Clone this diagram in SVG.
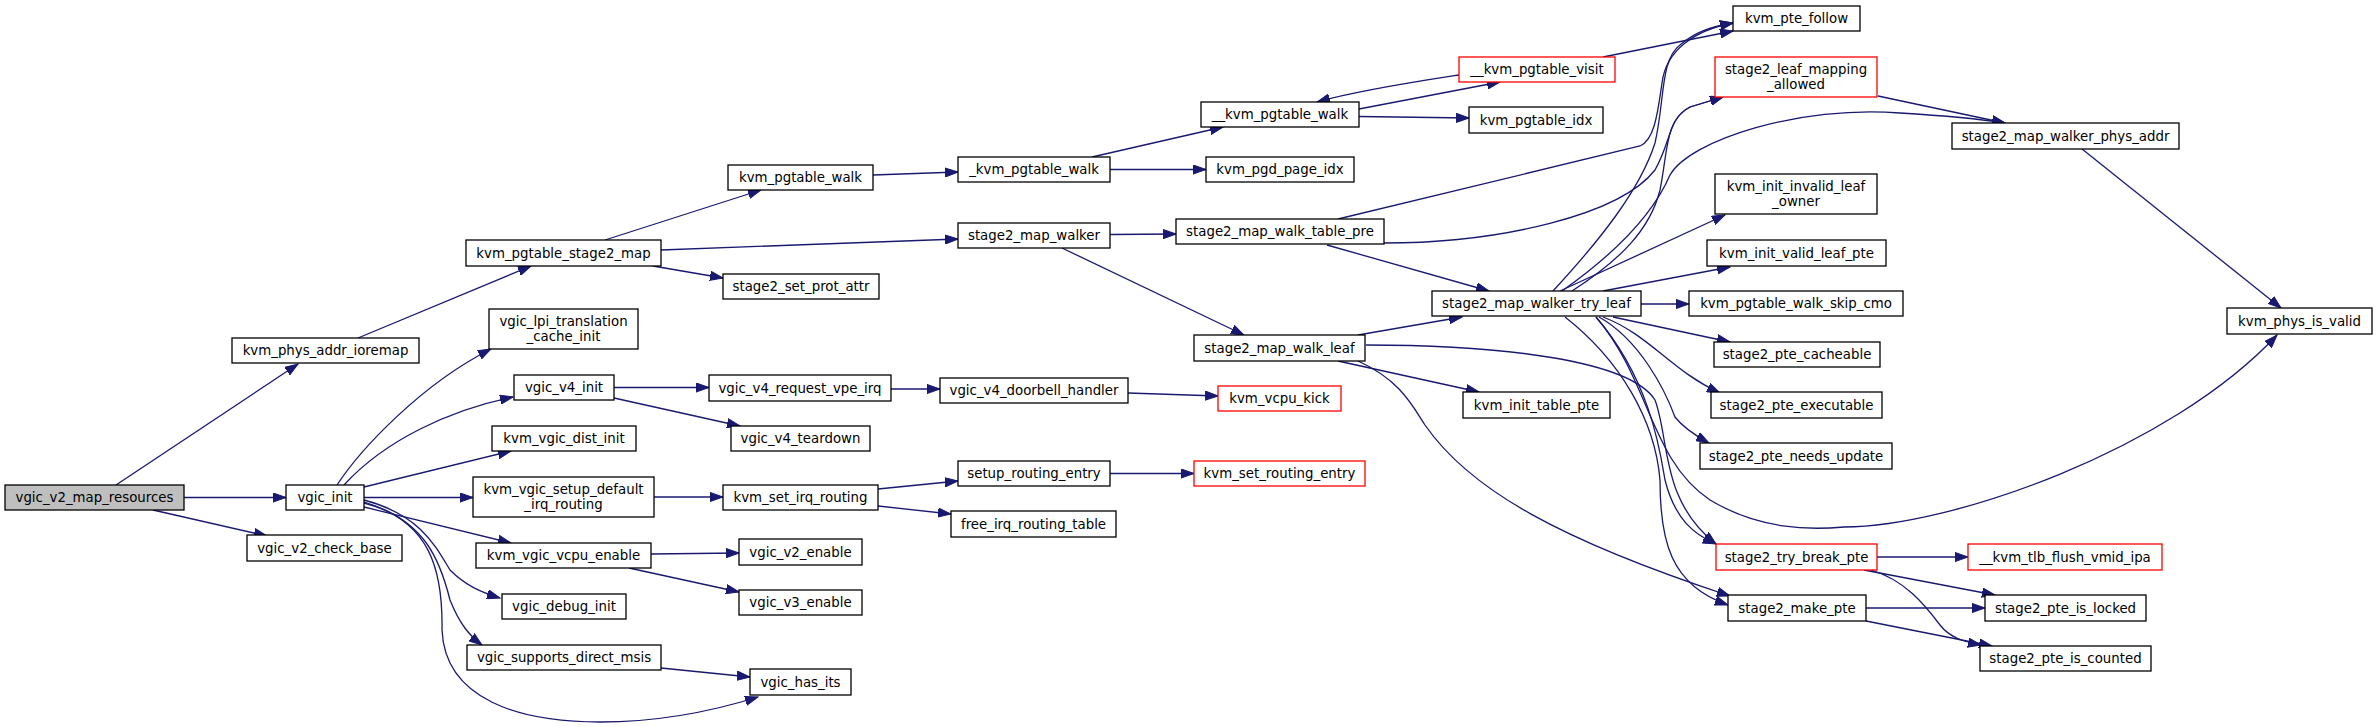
<svg xmlns="http://www.w3.org/2000/svg" width="2379" height="727" viewBox="0 0 2379 727">
<style>
.n rect{fill:#fff;stroke:#000;stroke-width:1.3}
.n.r rect{stroke:#ff0000}
.n.root rect{fill:#bfbfbf}
.n text{font-family:"DejaVu Sans",sans-serif;font-size:13.33px;fill:#000;text-anchor:middle}
.e path{fill:none;stroke:#191970;stroke-width:1.3;marker-end:url(#a)}
</style>
<defs>
<marker id="a" markerWidth="14" markerHeight="10" refX="13" refY="5" orient="auto" markerUnits="userSpaceOnUse"><path d="M0,0.4 L13,5 L0,9.6 z" fill="#191970" stroke="#191970" stroke-width="1"/></marker>
</defs>
<rect width="2379" height="727" fill="#fff"/>
<g id="edges" class="e">
<path d="M116,485 L298,364"/>
<path d="M184,497.5 L286,497.5"/>
<path d="M153,510 L267,536"/>
<path d="M358,338 L531,266"/>
<path d="M605,240 L761,190"/>
<path d="M661,250 L958,239"/>
<path d="M653,266 L723,278"/>
<path d="M873,175 L958,172"/>
<path d="M1092,157 L1223,127"/>
<path d="M1110,169.5 L1206,169.5"/>
<path d="M1359,109 L1500,82"/>
<path d="M1459,75 C1420,81 1360,90 1317,102"/>
<path d="M1359,116.5 L1469,118"/>
<path d="M1603,57 L1733,31"/>
<path d="M1110,234.5 L1176,234"/>
<path d="M1062,248 L1244,335"/>
<path d="M1338,219 L1640,146 C1655,140 1658,110 1662,83 C1666,50 1695,30 1733,23"/>
<path d="M1384,243 C1500,243 1620,215 1655,170 C1672,140 1668,118 1690,107 L1723,97"/>
<path d="M1327,245 L1489,291"/>
<path d="M1358,335 L1462,317"/>
<path d="M1338,361 L1479,392"/>
<path d="M1358,361 C1400,380 1412,405 1425,425 C1470,490 1560,540 1730,596"/>
<path d="M1366,345 C1500,345 1630,360 1655,400 C1670,440 1660,500 1716,544"/>
<path d="M1553,291 C1600,240 1640,190 1655,143 C1665,100 1660,60 1680,45 C1695,32 1710,27 1733,23"/>
<path d="M1572,291 C1620,260 1650,230 1660,190 C1668,150 1665,120 1690,107 L1723,97"/>
<path d="M1562,291 C1620,250 1655,210 1670,175 C1690,140 1800,105 1900,113 C1950,116 1980,119 2005,123"/>
<path d="M1560,291 L1725,215"/>
<path d="M1603,291 L1730,267"/>
<path d="M1641,304 L1689,304"/>
<path d="M1613,317 L1730,342"/>
<path d="M1603,317 C1650,335 1670,370 1720,393"/>
<path d="M1599,317 C1640,340 1665,390 1675,417 C1685,430 1700,438 1709,443"/>
<path d="M1596,317 C1650,380 1650,460 1710,500 C1760,530 1810,530 1844,527 C1950,527 2170,450 2277,335"/>
<path d="M1596,317 C1650,380 1660,450 1665,480 C1675,520 1695,535 1716,544"/>
<path d="M1565,317 C1620,360 1655,420 1660,480 C1660,540 1670,585 1728,605"/>
<path d="M1877,557 L1968,557"/>
<path d="M1864,570 L1995,595"/>
<path d="M1871,570 C1905,580 1925,605 1940,625 C1950,638 1965,642 1981,645"/>
<path d="M1866,608 L1985,608"/>
<path d="M1866,621 L1992,646"/>
<path d="M1878,96 L2005,123"/>
<path d="M2082,149 L2281,308"/>
<path d="M337,485 C360,450 420,385 491,349"/>
<path d="M344,485 C385,440 450,410 513,397"/>
<path d="M364,487 L511,451"/>
<path d="M364,497.5 L473,497.5"/>
<path d="M364,507 L511,543"/>
<path d="M364,500 C420,515 435,545 450,570 C465,585 480,592 500,598"/>
<path d="M364,502 C425,520 440,560 450,600 C460,625 470,636 482,645"/>
<path d="M364,503 C430,520 443,570 442,630 C445,700 520,722 600,722 C660,722 710,712 758,697"/>
<path d="M661,668 L750,677"/>
<path d="M654,497 L723,497"/>
<path d="M651,554 L739,553"/>
<path d="M629,568 L739,592"/>
<path d="M614,387.5 L709,387.5"/>
<path d="M614,398 L740,426"/>
<path d="M891,389 L940,389"/>
<path d="M1128,393 L1218,396"/>
<path d="M878,489 L958,481"/>
<path d="M878,506 L951,514"/>
<path d="M1110,473.5 L1194,473.5"/>
</g>
<g id="vgic_v2_map_resources" class="n root"><rect x="5" y="485" width="179" height="25"/><text x="94.5" y="502">vgic_v2_map_resources</text></g>
<g id="kvm_phys_addr_ioremap" class="n"><rect x="232" y="338" width="187" height="25"/><text x="325.5" y="355">kvm_phys_addr_ioremap</text></g>
<g id="vgic_init" class="n"><rect x="286" y="485" width="78" height="25"/><text x="325" y="502">vgic_init</text></g>
<g id="vgic_v2_check_base" class="n"><rect x="247" y="535" width="155" height="26"/><text x="324.5" y="552.5">vgic_v2_check_base</text></g>
<g id="kvm_pgtable_stage2_map" class="n"><rect x="466" y="240" width="195" height="26"/><text x="563.5" y="257.5">kvm_pgtable_stage2_map</text></g>
<g id="vgic_lpi_translation_cache_init" class="n"><rect x="489" y="309" width="149" height="40"/><text x="563.5" y="326">vgic_lpi_translation</text><text x="563.5" y="341">_cache_init</text></g>
<g id="vgic_v4_init" class="n"><rect x="514" y="375" width="100" height="25"/><text x="564" y="392">vgic_v4_init</text></g>
<g id="kvm_vgic_dist_init" class="n"><rect x="492" y="426" width="144" height="25"/><text x="564" y="443">kvm_vgic_dist_init</text></g>
<g id="kvm_vgic_setup_default_irq_routing" class="n"><rect x="473" y="477" width="181" height="40"/><text x="563.5" y="494">kvm_vgic_setup_default</text><text x="563.5" y="509">_irq_routing</text></g>
<g id="kvm_vgic_vcpu_enable" class="n"><rect x="476" y="543" width="175" height="25"/><text x="563.5" y="560">kvm_vgic_vcpu_enable</text></g>
<g id="vgic_debug_init" class="n"><rect x="502" y="594" width="124" height="25"/><text x="564" y="611">vgic_debug_init</text></g>
<g id="vgic_supports_direct_msis" class="n"><rect x="467" y="645" width="194" height="25"/><text x="564" y="662">vgic_supports_direct_msis</text></g>
<g id="kvm_pgtable_walk" class="n"><rect x="728" y="165" width="145" height="25"/><text x="800.5" y="182">kvm_pgtable_walk</text></g>
<g id="stage2_set_prot_attr" class="n"><rect x="723" y="274" width="156" height="25"/><text x="801" y="291">stage2_set_prot_attr</text></g>
<g id="vgic_v4_request_vpe_irq" class="n"><rect x="709" y="375" width="182" height="26"/><text x="800" y="392.5">vgic_v4_request_vpe_irq</text></g>
<g id="vgic_v4_teardown" class="n"><rect x="731" y="426" width="139" height="25"/><text x="800.5" y="443">vgic_v4_teardown</text></g>
<g id="kvm_set_irq_routing" class="n"><rect x="723" y="485" width="155" height="25"/><text x="800.5" y="502">kvm_set_irq_routing</text></g>
<g id="vgic_v2_enable" class="n"><rect x="739" y="539" width="123" height="26"/><text x="800.5" y="556.5">vgic_v2_enable</text></g>
<g id="vgic_v3_enable" class="n"><rect x="739" y="590" width="123" height="25"/><text x="800.5" y="607">vgic_v3_enable</text></g>
<g id="vgic_has_its" class="n"><rect x="750" y="669" width="101" height="26"/><text x="800.5" y="686.5">vgic_has_its</text></g>
<g id="_kvm_pgtable_walk" class="n"><rect x="958" y="157" width="152" height="25"/><text x="1034" y="174">_kvm_pgtable_walk</text></g>
<g id="stage2_map_walker" class="n"><rect x="958" y="223" width="152" height="25"/><text x="1034" y="240">stage2_map_walker</text></g>
<g id="vgic_v4_doorbell_handler" class="n"><rect x="940" y="378" width="188" height="25"/><text x="1034" y="395">vgic_v4_doorbell_handler</text></g>
<g id="setup_routing_entry" class="n"><rect x="958" y="461" width="152" height="25"/><text x="1034" y="478">setup_routing_entry</text></g>
<g id="free_irq_routing_table" class="n"><rect x="951" y="511" width="165" height="26"/><text x="1033.5" y="528.5">free_irq_routing_table</text></g>
<g id="__kvm_pgtable_walk" class="n"><rect x="1201" y="102" width="158" height="25"/><text x="1280" y="119">__kvm_pgtable_walk</text></g>
<g id="kvm_pgd_page_idx" class="n"><rect x="1206" y="157" width="148" height="25"/><text x="1280" y="174">kvm_pgd_page_idx</text></g>
<g id="stage2_map_walk_table_pre" class="n"><rect x="1176" y="219" width="208" height="25"/><text x="1280" y="236">stage2_map_walk_table_pre</text></g>
<g id="stage2_map_walk_leaf" class="n"><rect x="1194" y="335" width="171" height="26"/><text x="1279.5" y="352.5">stage2_map_walk_leaf</text></g>
<g id="kvm_vcpu_kick" class="n r"><rect x="1218" y="386" width="123" height="25"/><text x="1279.5" y="403">kvm_vcpu_kick</text></g>
<g id="kvm_set_routing_entry" class="n r"><rect x="1194" y="461" width="171" height="25"/><text x="1279.5" y="478">kvm_set_routing_entry</text></g>
<g id="__kvm_pgtable_visit" class="n r"><rect x="1459" y="57" width="156" height="25"/><text x="1537" y="74">__kvm_pgtable_visit</text></g>
<g id="kvm_pgtable_idx" class="n"><rect x="1469" y="107" width="134" height="26"/><text x="1536" y="124.5">kvm_pgtable_idx</text></g>
<g id="stage2_map_walker_try_leaf" class="n"><rect x="1432" y="291" width="209" height="25"/><text x="1536.5" y="308">stage2_map_walker_try_leaf</text></g>
<g id="kvm_init_table_pte" class="n"><rect x="1463" y="392" width="147" height="26"/><text x="1536.5" y="409.5">kvm_init_table_pte</text></g>
<g id="kvm_pte_follow" class="n"><rect x="1733" y="6" width="127" height="25"/><text x="1796.5" y="23">kvm_pte_follow</text></g>
<g id="stage2_leaf_mapping_allowed" class="n r"><rect x="1715" y="57" width="162" height="40"/><text x="1796" y="74">stage2_leaf_mapping</text><text x="1796" y="89">_allowed</text></g>
<g id="kvm_init_invalid_leaf_owner" class="n"><rect x="1715" y="174" width="162" height="40"/><text x="1796" y="191">kvm_init_invalid_leaf</text><text x="1796" y="206">_owner</text></g>
<g id="kvm_init_valid_leaf_pte" class="n"><rect x="1707" y="240" width="179" height="26"/><text x="1796.5" y="257.5">kvm_init_valid_leaf_pte</text></g>
<g id="kvm_pgtable_walk_skip_cmo" class="n"><rect x="1689" y="291" width="214" height="25"/><text x="1796" y="308">kvm_pgtable_walk_skip_cmo</text></g>
<g id="stage2_pte_cacheable" class="n"><rect x="1714" y="342" width="166" height="25"/><text x="1797" y="359">stage2_pte_cacheable</text></g>
<g id="stage2_pte_executable" class="n"><rect x="1711" y="392" width="171" height="26"/><text x="1796.5" y="409.5">stage2_pte_executable</text></g>
<g id="stage2_pte_needs_update" class="n"><rect x="1700" y="443" width="192" height="26"/><text x="1796" y="460.5">stage2_pte_needs_update</text></g>
<g id="stage2_try_break_pte" class="n r"><rect x="1716" y="544" width="161" height="26"/><text x="1796.5" y="561.5">stage2_try_break_pte</text></g>
<g id="stage2_make_pte" class="n"><rect x="1728" y="595" width="138" height="26"/><text x="1797" y="612.5">stage2_make_pte</text></g>
<g id="stage2_map_walker_phys_addr" class="n"><rect x="1952" y="123" width="227" height="26"/><text x="2065.5" y="140.5">stage2_map_walker_phys_addr</text></g>
<g id="__kvm_tlb_flush_vmid_ipa" class="n r"><rect x="1968" y="544" width="194" height="26"/><text x="2065" y="561.5">__kvm_tlb_flush_vmid_ipa</text></g>
<g id="stage2_pte_is_locked" class="n"><rect x="1985" y="595" width="161" height="26"/><text x="2065.5" y="612.5">stage2_pte_is_locked</text></g>
<g id="stage2_pte_is_counted" class="n"><rect x="1980" y="646" width="171" height="25"/><text x="2065.5" y="663">stage2_pte_is_counted</text></g>
<g id="kvm_phys_is_valid" class="n"><rect x="2227" y="308" width="145" height="26"/><text x="2299.5" y="325.5">kvm_phys_is_valid</text></g>
</svg>
